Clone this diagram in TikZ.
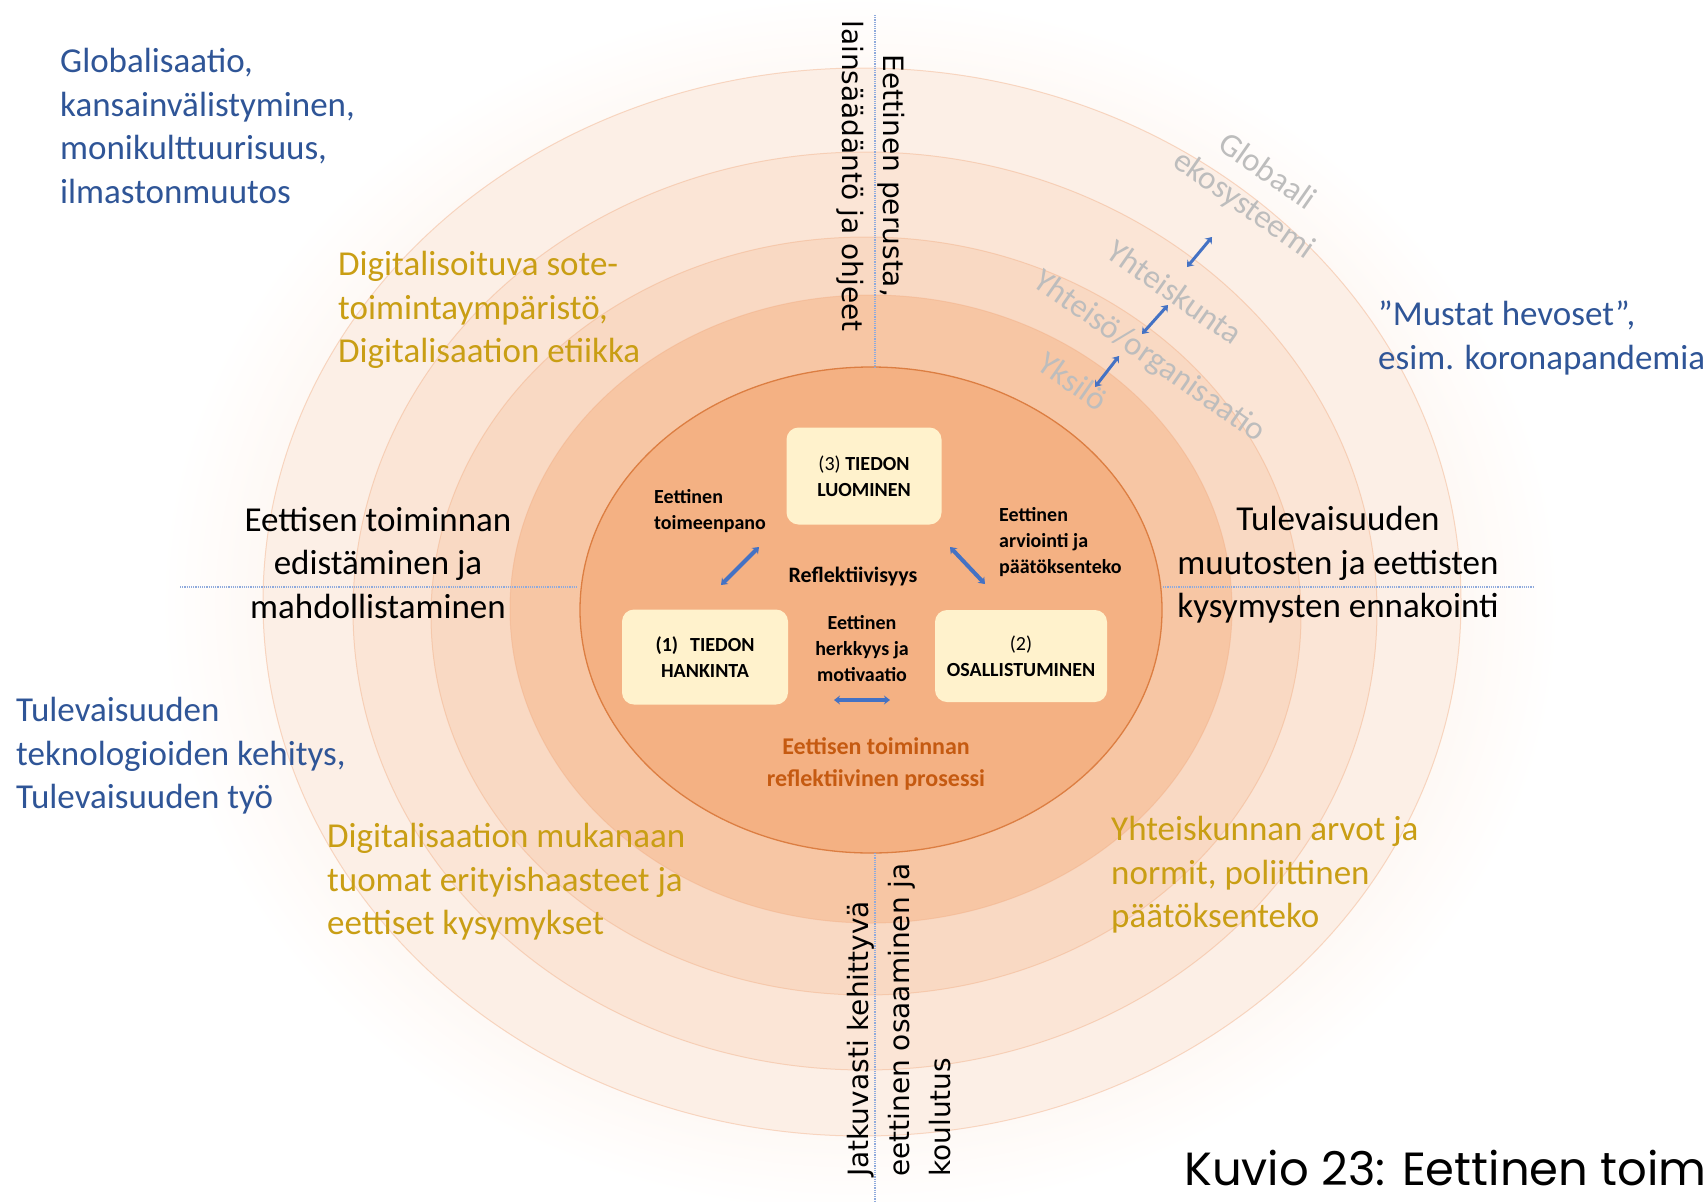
\documentclass[tikz,border=0pt]{standalone}
\usepackage{fontspec}
\setmainfont{Carlito}
\newfontfamily\verdfont{DejaVu Sans}
\newfontfamily\capfont{Poppins}
\usetikzlibrary{arrows.meta}
\definecolor{fillA}{HTML}{F4B183}
\definecolor{fillB}{HTML}{F7C6A4}
\definecolor{fillC}{HTML}{F9D9C3}
\definecolor{fillD}{HTML}{FBE5D6}
\definecolor{fillE}{HTML}{FCEFE6}
\definecolor{edgeA}{HTML}{DC7E42}
\definecolor{edgeR}{HTML}{F2B088}
\definecolor{boxfill}{HTML}{FFF2CC}
\definecolor{txtblue}{HTML}{2F5597}
\definecolor{txtgold}{HTML}{C99E14}
\definecolor{txtgray}{HTML}{BDBDBD}
\definecolor{txtorange}{HTML}{C55A11}
\definecolor{arrowblue}{HTML}{4472C4}
\definecolor{axisblue}{HTML}{8FAADC}
\pgfdeclareradialshading{outerglow}{\pgfpoint{0bp}{0bp}}{rgb(0bp)=(0.996,0.965,0.945); rgb(20bp)=(0.996,0.965,0.945); rgb(25bp)=(1,1,1); rgb(50bp)=(1,1,1)}
\tikzset{
  ring/.style={draw=edgeR, draw opacity=0.45, line width=1pt},
  bigtxt/.style={font=\fontsize{35}{43.5}\selectfont, inner sep=0pt},
  bluetxt/.style={bigtxt, text=txtblue, align=left, anchor=west},
  goldtxt/.style={bigtxt, text=txtgold, align=left, anchor=west},
  blacktxt/.style={bigtxt, text=black, align=center},
  verttxt/.style={font=\verdfont\fontsize{28}{41}\selectfont, inner sep=0pt, text=black},
  graytxt/.style={font=\fontsize{33}{40}\selectfont, text=txtgray, rotate=-35, inner sep=0pt, align=center},
  stagebox/.style={fill=boxfill, rounded corners=12pt, font=\bfseries\fontsize{20}{26}\selectfont, align=center, inner sep=0pt},
  smalltxt/.style={font=\bfseries\fontsize{20}{26}\selectfont, inner sep=0pt},
  barrow/.style={{Stealth[length=6pt,width=9pt]}-{Stealth[length=6pt,width=9pt]}, draw=arrowblue, line width=4pt},
  axisline/.style={draw=axisblue, line width=1.2pt, densely dotted},
}
\begin{document}
\begin{tikzpicture}[x=1pt,y=-1pt]
\useasboundingbox (0,0) rectangle (1708,1202);
\fill[white] (0,0) rectangle (1708,1202);
% rings
\shade[shading=outerglow] (860,605) ellipse [x radius=700, y radius=610];
\path[ring, fill=fillE] (862,602) ellipse [x radius=599, y radius=534];
\path[ring, fill=fillD] (865,611) ellipse [x radius=512, y radius=459];
\path[ring, fill=fillC] (866,616) ellipse [x radius=435, y radius=379];
\path[ring, fill=fillB] (871,609) ellipse [x radius=361, y radius=314];
\path[draw=edgeA, line width=1.3pt, fill=fillA] (871,610) ellipse [x radius=291, y radius=243];
% axis lines
\coordinate (topA) at (875,15);
\coordinate (topB) at (875,368);
\coordinate (botA) at (875,853);
\coordinate (botB) at (875,1202);
\coordinate (lefA) at (180,587);
\coordinate (lefB) at (578,587);
\coordinate (rigA) at (1163,587);
\coordinate (rigB) at (1533,587);
\draw[axisline] (topA) -- (topB);
\draw[axisline] (botA) -- (botB);
\draw[axisline] (lefA) -- (lefB);
\draw[axisline] (rigA) -- (rigB);
% outer texts
\node[bluetxt] (glob) at (60,126) {Globalisaatio,\\kansainvälistyminen,\\monikulttuurisuus,\\ilmastonmuutos};
\node[goldtxt] (digisote) at (338,310) {Digitalisoituva sote-\\toimintaympäristö,\\Digitalisaation etiikka};
\node[bluetxt] (mustat) at (1378,338) {”Mustat hevoset”,\\esim. koronapandemia};
\node[blacktxt] (edist) at (378,563) {Eettisen toiminnan\\edistäminen ja\\mahdollistaminen};
\node[blacktxt] (ennak) at (1338,565) {Tulevaisuuden\\muutosten ja eettisten\\kysymysten ennakointi};
\node[bluetxt] (tekno) at (16,756) {Tulevaisuuden\\teknologioiden kehitys,\\Tulevaisuuden työ};
\node[goldtxt] (digihaaste) at (327,882) {Digitalisaation mukanaan\\tuomat erityishaasteet ja\\eettiset kysymykset};
\node[goldtxt] (arvot) at (1111,875) {Yhteiskunnan arvot ja\\normit, poliittinen\\päätöksenteko};
% vertical texts
\node[verttxt, rotate=-90, align=center] (perusta) at (871,176) {Eettinen perusta,\\lainsäädäntö ja ohjeet};
\node[verttxt, rotate=90, align=left, anchor=west] (koulutus) at (899,1177) {Jatkuvasti kehittyvä\\eettinen osaaminen ja\\koulutus};
% gray level labels
\node[graytxt] (globaali) at (1255,189) {Globaali\\ekosysteemi};
\node[graytxt] (yhteiskunta) at (1175,292) {Yhteiskunta};
\node[graytxt] (yhteiso) at (1149,357) {Yhteisö/organisaatio};
\node[graytxt] (yksilo) at (1073,381) {Yksilö};
\coordinate (s1a) at (1187,267); \coordinate (s1b) at (1212,237);
\coordinate (s2a) at (1142,334); \coordinate (s2b) at (1168,305);
\coordinate (s3a) at (1095,387); \coordinate (s3b) at (1119,356);
\draw[barrow, line width=3pt] (s1a) -- (s1b);
\draw[barrow, line width=3pt] (s2a) -- (s2b);
\draw[barrow, line width=3pt] (s3a) -- (s3b);
% inner process
\node[stagebox, minimum width=155pt, minimum height=97pt] (luominen) at (864,476) {{\mdseries(3)} TIEDON\\LUOMINEN};
\node[stagebox, minimum width=166pt, minimum height=95pt] (hankinta) at (705,657) {(1)\hspace{0.6em}TIEDON\\HANKINTA};
\node[stagebox, minimum width=172pt, minimum height=92pt] (osall) at (1021,656) {{\mdseries(2)}\\OSALLISTUMINEN};
\node[smalltxt, align=left, anchor=west] (toimeenpano) at (654,511) {Eettinen\\toimeenpano};
\node[smalltxt, align=left, anchor=west] (arviointi) at (999,542) {Eettinen\\arviointi ja\\päätöksenteko};
\node[font=\bfseries\fontsize{22}{26}\selectfont, inner sep=0pt] (refl) at (853,576) {Reflektiivisyys};
\node[smalltxt, align=center] (herkkyys) at (862,649) {Eettinen\\herkkyys ja\\motivaatio};
\node[font=\bfseries\fontsize{24}{32}\selectfont, text=txtorange, align=center, inner sep=0pt] (prosessi) at (876,764) {Eettisen toiminnan\\reflektiivinen prosessi};
\coordinate (a1a) at (721,585); \coordinate (a1b) at (759,547);
\coordinate (a2a) at (950,547); \coordinate (a2b) at (985,584);
\coordinate (a3a) at (834,700); \coordinate (a3b) at (890,700);
\draw[barrow] (a1a) -- (a1b);
\draw[barrow] (a2a) -- (a2b);
\draw[barrow] (a3a) -- (a3b);
% caption
\node[font=\capfont\fontsize{46.5}{50}\selectfont, anchor=west, inner sep=0pt] (kuvio) at (1184,1168) {Kuvio 23: Eettinen toim};
\end{tikzpicture}
\end{document}
